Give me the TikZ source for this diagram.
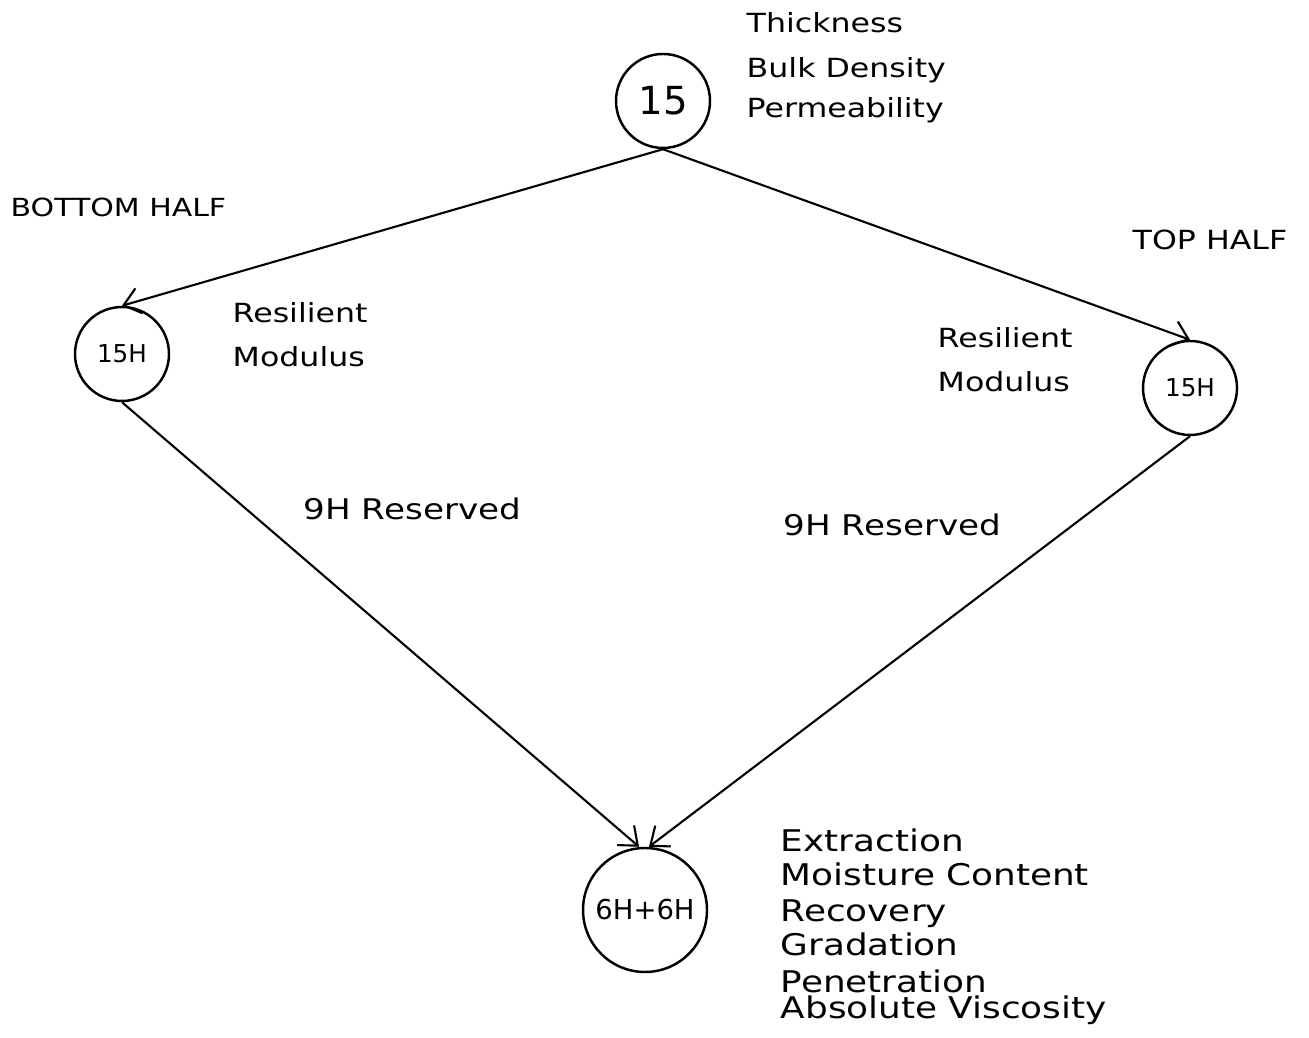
\documentclass[tikz,border=0pt]{standalone}
\usepackage{fontspec}
\setmainfont{DejaVu Sans}[FakeStretch=1.2]
\newfontfamily\circfont{DejaVu Sans}
\usetikzlibrary{arrows.meta}

\begin{document}
\begin{tikzpicture}[
	smp/.style={circle, draw, line width=0.7pt, inner sep=0pt, minimum size=0.94cm, font=\circfont\fontsize{7}{8}\selectfont},
	lbl/.style={anchor=base west, inner sep=0pt, font=\fontsize{7.5}{9}\selectfont},
	lst/.style={lbl, font=\fontsize{8.5}{10}\selectfont},
	>={Straight Barb[length=1.6mm,width=2.6mm]}]
\useasboundingbox (0,0) rectangle (13.09,10.37);

\node[smp, font=\circfont\fontsize{11}{12}\selectfont] (top) at (6.63,9.36) {15};
\node[smp] (lh) at (1.22,6.83) {15H};
\node[smp] (rh) at (11.90,6.49) {15H};
\node[smp, minimum size=1.24cm, font=\circfont\fontsize{7.8}{9}\selectfont] (bt) at (6.45,1.27) {6H+6H};

\node[lbl] (thk) at (7.46,10.04) {Thickness};
\node[lbl] (bdn) at (7.46,9.59) {Bulk Density};
\node[lbl] (prm) at (7.46,9.19) {Permeability};

\node[lbl, font=\fontsize{7.1}{9}\selectfont] (bhalf) at (0.10,8.20) {BOTTOM HALF};
\node[lbl] (thalf) at (11.32,7.87) {TOP HALF};

\node[lbl] (resl) at (2.32,7.14) {Resilient};
\node[lbl] (modl) at (2.32,6.70) {Modulus};
\node[lbl] (resr) at (9.37,6.89) {Resilient};
\node[lbl] (modr) at (9.37,6.45) {Modulus};

\node[lbl, font=\fontsize{8.1}{9}\selectfont] (rsvl) at (3.03,5.17) {9H Reserved};
\node[lbl, font=\fontsize{8.1}{9}\selectfont] (rsvr) at (7.83,5.01) {9H Reserved};

\node[lst] (ext) at (7.80,1.85) {Extraction};
\node[lst] (mst) at (7.80,1.52) {Moisture Content};
\node[lst] (rcv) at (7.80,1.16) {Recovery};
\node[lst] (grd) at (7.80,0.82) {Gradation};
\node[lst] (pen) at (7.80,0.45) {Penetration};
\node[lst] (vsc) at (7.80,0.19) {Absolute Viscosity};

\draw[->, line width=0.6pt] (top.south) -- (lh.north);
\draw[->, line width=0.6pt] (top.south) -- (rh.north);
\draw[->, line width=0.6pt] (lh.south) -- ([xshift=-0.06cm]bt.north);
\draw[->, line width=0.6pt] (rh.south) -- ([xshift=0.04cm]bt.north);
\end{tikzpicture}
\end{document}
